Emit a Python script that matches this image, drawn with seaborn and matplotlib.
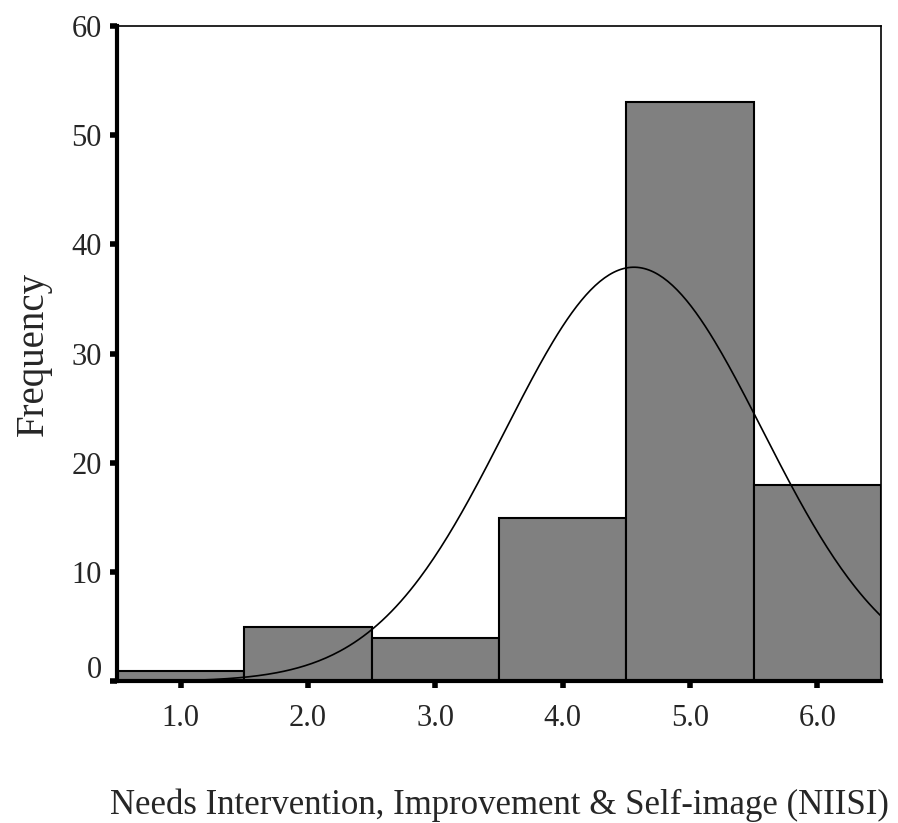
import numpy as np
import pandas as pd
import matplotlib
matplotlib.use("Agg")
import matplotlib.pyplot as plt
import matplotlib.transforms as mtransforms
import seaborn as sns

# datos
niisi = [1.0, 2.0, 3.0, 4.0, 5.0, 6.0]
frecuencias = [1, 5, 4, 15, 53, 18]
bordes = [0.5, 1.5, 2.5, 3.5, 4.5, 5.5, 6.5]
etiquetas_x = ['1.0', '2.0', '3.0', '4.0', '5.0', '6.0']
# curva normal ajustada (parametros estimados)
media = 4.56
desv = 1.01
n_total = sum(frecuencias)

sns.set_style("white")
plt.rcParams['font.family'] = ['Liberation Serif', 'DejaVu Serif']

fig = plt.figure(figsize=(8.98, 8.23), dpi=100)
ax = fig.add_axes([0.1303, 0.172, 0.8507, 0.7964])

datos = pd.DataFrame({'niisi': niisi, 'freq': frecuencias})
sns.histplot(data=datos, x='niisi', weights='freq', bins=bordes, ax=ax,
             color='#808080', alpha=1, edgecolor='black', linewidth=1.5)

# curva normal
xs = np.linspace(1.0, 6.5, 300)
ys = n_total / (desv * np.sqrt(2 * np.pi)) * np.exp(-(xs - media) ** 2 / (2 * desv ** 2))
sns.lineplot(x=xs, y=ys, ax=ax, color='black', linewidth=1.2)

ax.set_xlim(0.5, 6.5)
ax.set_ylim(0, 60)
ax.set_xticks(niisi)
ax.set_xticklabels(etiquetas_x)
ax.set_yticks([0, 10, 20, 30, 40, 50, 60])

for lado in ['left', 'bottom']:
    ax.spines[lado].set_linewidth(3)
for lado in ['top', 'right']:
    ax.spines[lado].set_linewidth(1.2)
for s in ax.spines.values():
    s.set_color('black')
    s.set_visible(True)

ax.tick_params(axis='both', direction='out', length=5, width=4, color='black',
               labelsize=22, pad=6, bottom=True, left=True)
ax.tick_params(axis='x', pad=11)

# el "0" aparece algo por encima de su marca
etiq0 = ax.get_yticklabels()[0]
etiq0.set_transform(etiq0.get_transform() +
                    mtransforms.ScaledTranslation(0, 14 / 100, fig.dpi_scale_trans))

ax.set_ylabel('Frequency', fontsize=28, labelpad=14)
ax.set_xlabel('Needs Intervention, Improvement & Self-image (NIISI)', fontsize=25, labelpad=40)

fig.savefig('out.png', dpi=100)
